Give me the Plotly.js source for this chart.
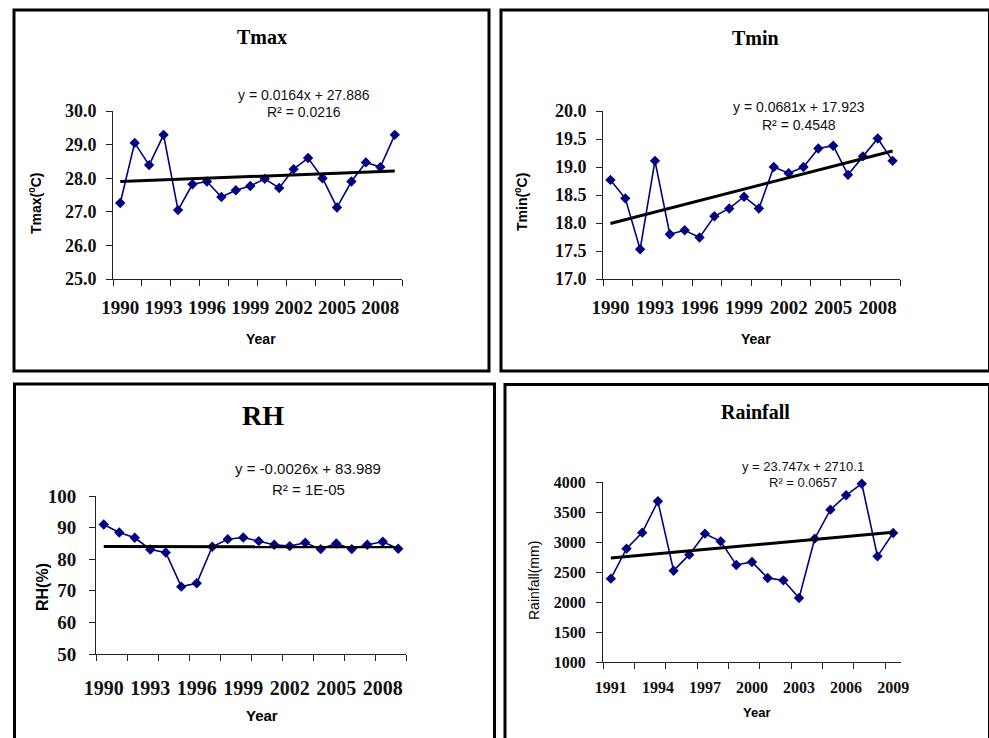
<!DOCTYPE html>
<html>
<head>
<meta charset="utf-8">
<script src="https://cdn.plot.ly/plotly-3.0.1.min.js"></script>
<style>
  html, body { margin: 0; padding: 0; background: #fff; }
  #chart { width: 989px; height: 738px; }
</style>
</head>
<body>
<div id="chart"></div>
<script>
// Annual climate series
const years = [1990,1991,1992,1993,1994,1995,1996,1997,1998,1999,2000,2001,2002,2003,2004,2005,2006,2007,2008,2009];
const tmax = [27.26,29.05,28.39,29.29,27.05,27.82,27.90,27.44,27.64,27.77,27.98,27.71,28.27,28.60,28.00,27.13,27.90,28.47,28.33,29.29];
const tmin = [18.77,18.44,17.53,19.11,17.80,17.87,17.74,18.12,18.26,18.47,18.26,19.00,18.89,19.00,19.33,19.38,18.86,19.19,19.51,19.11];
const rh = [90.97,88.45,86.77,83.09,82.14,71.32,72.37,83.93,86.34,86.87,85.71,84.56,84.14,85.19,83.19,84.98,83.19,84.56,85.50,83.30];
const rainYears = [1991,1992,1993,1994,1995,1996,1997,1998,1999,2000,2001,2002,2003,2004,2005,2006,2007,2008,2009];
const rainfall = [2389,2889,3156,3678,2522,2789,3139,3011,2617,2667,2400,2361,2067,3056,3539,3778,3972,2761,3150];

// Tick labels on the year axes
const yearLabels = [1990,1993,1996,1999,2002,2005,2008];
const rainYearLabels = [1991,1994,1997,2000,2003,2006,2009];

// Linear trend y = a*x + b, x counted 1..n; order: Tmax, Tmin, RH, Rainfall
const trendSlopes = [0.0164, 0.0681, -0.0026, 23.747];
const trendIntercepts = [27.886, 17.923, 83.989, 2710.1];
const trendR2 = ['0.0216', '0.4548', '1E-05', '0.0657'];

const W = 989, H = 738;
const fx = p => p / W;
const fy = p => 1 - p / H;

const NAVY = '#000080';
const SERIF = 'Liberation Serif, Times New Roman, serif';
const SANS = 'Liberation Sans, Arial, sans-serif';

function trendTrace(xs, k, xa, ya) {
  const n = xs.length;
  return {
    x: [xs[0], xs[n - 1]],
    y: [trendSlopes[k] * 1 + trendIntercepts[k], trendSlopes[k] * n + trendIntercepts[k]],
    type: 'scatter', mode: 'lines', xaxis: xa, yaxis: ya, cliponaxis: false,
    line: { color: '#000', width: 3 }, hoverinfo: 'skip'
  };
}
function seriesTrace(xs, ys, xa, ya) {
  return {
    x: xs, y: ys, type: 'scatter', mode: 'lines+markers', xaxis: xa, yaxis: ya,
    cliponaxis: false,
    line: { color: NAVY, width: 1.6 },
    marker: { symbol: 'diamond', size: 8, color: NAVY }
  };
}

function yearAxis(px0, px1, xs, labels, anchor, fsize, standoff) {
  const lo = xs[0] - 0.5, hi = xs[xs.length - 1] + 0.5;
  const minorVals = [];
  for (let v = lo; v <= hi + 1e-9; v += 2) minorVals.push(v);
  return {
    domain: [fx(px0), fx(px1)], anchor: anchor, range: [lo, hi],
    tickmode: 'array', tickvals: labels, ticktext: labels.map(String),
    ticks: '', showgrid: false, zeroline: false,
    showline: true, linecolor: '#222', linewidth: 1,
    tickfont: { family: SERIF, size: fsize, color: '#111', weight: 'bold' },
    ticklabelstandoff: standoff,
    minor: { tickmode: 'array', tickvals: minorVals, ticks: 'outside', ticklen: 6, tickwidth: 1, tickcolor: '#222', showgrid: false },
    fixedrange: true
  };
}
function valueAxis(py0, py1, range, dtick, fmt, anchor, fsize, standoff) {
  return {
    domain: [fy(py1), fy(py0)], anchor: anchor, range: range,
    dtick: dtick, tick0: range[0], tickformat: fmt,
    ticks: 'outside', ticklen: 6, tickwidth: 1, tickcolor: '#222',
    showgrid: false, zeroline: false,
    showline: true, linecolor: '#222', linewidth: 1,
    tickfont: { family: SERIF, size: fsize, color: '#111', weight: 'bold' },
    ticklabelstandoff: standoff,
    fixedrange: true
  };
}

const data = [
  seriesTrace(years, tmax, 'x', 'y'), trendTrace(years, 0, 'x', 'y'),
  seriesTrace(years, tmin, 'x2', 'y2'), trendTrace(years, 1, 'x2', 'y2'),
  seriesTrace(years, rh, 'x3', 'y3'), trendTrace(years, 2, 'x3', 'y3'),
  seriesTrace(rainYears, rainfall, 'x4', 'y4'), trendTrace(rainYears, 3, 'x4', 'y4')
];

function note(text, px, py, font, extra) {
  return Object.assign({
    text: text, xref: 'paper', yref: 'paper', x: fx(px), y: fy(py),
    xanchor: 'center', yanchor: 'middle', showarrow: false, font: font
  }, extra || {});
}
const titleFont = s => ({ family: SERIF, size: s, color: '#000', weight: 'bold' });
const eqFont = s => ({ family: SANS, size: s, color: '#111' });
const labFont = (s, w) => ({ family: SANS, size: s, color: '#000', weight: w });

function eqText(k) {
  const a = trendSlopes[k], b = trendIntercepts[k];
  return 'y = ' + a + 'x + ' + b;
}

const annotations = [
  note('Tmax', 262, 37, titleFont(20)),
  note('Tmin', 755, 38, titleFont(20)),
  note('RH', 263, 415, titleFont(28)),
  note('Rainfall', 755, 412, titleFont(20)),

  note(eqText(0), 304, 95, eqFont(14)),
  note('R² = ' + trendR2[0], 304, 112, eqFont(14)),
  note(eqText(1), 799, 107, eqFont(14)),
  note('R² = ' + trendR2[1], 799, 125, eqFont(14)),
  note(eqText(2), 308, 469, eqFont(15)),
  note('R² = ' + trendR2[2], 308, 489, eqFont(15)),
  note(eqText(3), 803, 466, eqFont(13)),
  note('R² = ' + trendR2[3], 803, 482, eqFont(13)),

  note('Year', 261, 339, labFont(14, 'bold')),
  note('Year', 756, 339, labFont(14, 'bold')),
  note('Year', 262, 715, labFont(15, 'bold')),
  note('Year', 756, 712, labFont(13, 'bold')),

  note('Tmax(<sup>0</sup>C)', 35, 204, labFont(14, 'bold'), { textangle: -90 }),
  note('Tmin(<sup>0</sup>C)', 521, 202, labFont(14, 'bold'), { textangle: -90 }),
  note('RH(%)', 42, 587, labFont(16, 'bold'), { textangle: -90 }),
  note('Rainfall(mm)', 534, 581, labFont(14, 'normal'), { textangle: -90 })
];

function frame(x0, y0, x1, y1) {
  return {
    type: 'rect', xref: 'paper', yref: 'paper',
    x0: fx(x0), x1: fx(x1), y0: fy(y1), y1: fy(y0),
    line: { color: '#000', width: 3 }, fillcolor: 'rgba(0,0,0,0)'
  };
}

const layout = {
  width: W, height: H,
  margin: { l: 0, r: 0, t: 0, b: 0 },
  paper_bgcolor: '#fff', plot_bgcolor: '#fff',
  showlegend: false,
  xaxis: yearAxis(113, 402, years, yearLabels, 'y', 19, 11),
  yaxis: valueAxis(111, 279, [25, 30], 1, '.1f', 'x', 18, 6),
  xaxis2: yearAxis(603, 900, years, yearLabels, 'y2', 19, 11),
  yaxis2: valueAxis(111, 279, [17, 20], 0.5, '.1f', 'x2', 18, 6),
  xaxis3: yearAxis(96, 406, years, yearLabels, 'y3', 20, 16),
  yaxis3: valueAxis(496, 654, [50, 100], 10, 'd', 'x3', 19, 9),
  xaxis4: yearAxis(603, 901, rainYears, rainYearLabels, 'y4', 16, 11),
  yaxis4: valueAxis(482, 662, [1000, 4000], 500, 'd', 'x4', 16, 7),
  annotations: annotations,
  shapes: [
    frame(14, 10, 489, 371),
    frame(501, 10, 989.5, 371),
    frame(14.5, 384, 494.5, 745),
    frame(505, 384.5, 989.5, 745)
  ]
};

Plotly.newPlot('chart', data, layout, { displayModeBar: false, staticPlot: true });
</script>
</body>
</html>
